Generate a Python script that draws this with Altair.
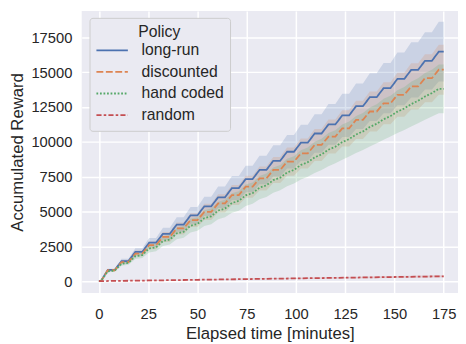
import altair as alt
import pandas as pd

policies = ["long-run", "discounted", "hand coded", "random"]
colors = ["#4C72B0", "#DD8452", "#55A868", "#C44E52"]
dashes = [[1, 0], [7, 2.6], [1.8, 1.8], [5.2, 2.2, 2.6, 2.2]]

x_ticks = [0, 25, 50, 75, 100, 125, 150, 175]
y_ticks = [0, 2500, 5000, 7500, 10000, 12500, 15000, 17500]

# reward periods: each of 25 periods of 7 minutes starts with a rise
n_steps = 25
rise_start = [7 * k + 1 for k in range(n_steps)]
rise_end = [7 * k + 4.5 for k in range(n_steps)]

# level reached after each rise
longrun_end = [800, 1440, 2100, 2760, 3400, 4060, 4720, 5370, 6020, 6680,
               7330, 7980, 8640, 9290, 9940, 10600, 11250, 11900, 12560, 13210,
               13860, 14520, 15170, 15820, 16480]
discounted_end = [780, 1370, 1980, 2580, 3170, 3780, 4380, 4970, 5580, 6180,
                  6780, 7370, 7980, 8580, 9170, 9780, 10380, 10970, 11580, 12180,
                  12770, 13380, 13980, 14570, 15180]
handcoded_end = [700, 1250, 1790, 2340, 2880, 3430, 3980, 4520, 5070, 5610,
                 6160, 6710, 7250, 7800, 8340, 8890, 9440, 9980, 10530, 11070,
                 11620, 12170, 12710, 13260, 13810]
# value just before each rise
longrun_start = [0] + longrun_end[:-1]
discounted_start = [0] + discounted_end[:-1]
handcoded_start = [0, 750, 1310, 1870, 2430, 2980, 3540, 4100, 4650, 5210,
                   5760, 6320, 6880, 7430, 7990, 8540, 9100, 9650, 10200, 10750,
                   11300, 11850, 12400, 12950, 13500]

# confidence half-widths after each rise
longrun_hw = [90, 170, 260, 340, 430, 520, 600, 690, 770, 860, 950, 1030, 1120,
              1200, 1290, 1380, 1460, 1550, 1630, 1720, 1810, 1890, 1980, 2060, 2150]
discounted_hw = [70, 140, 220, 290, 360, 430, 500, 580, 650, 720, 790, 860, 940,
                 1010, 1080, 1150, 1220, 1300, 1370, 1440, 1510, 1580, 1660, 1730, 1800]
handcoded_hw = [70, 140, 210, 280, 350, 420, 490, 560, 630, 700, 770, 840, 910,
                980, 1050, 1120, 1190, 1260, 1330, 1400, 1470, 1540, 1610, 1680, 1750]

random_t = [0, 25, 50, 75, 100, 125, 150, 175]
random_v = [0, 45, 95, 145, 195, 245, 295, 345]
random_hw = [0, 15, 25, 35, 45, 55, 65, 70]

rows = []
series = [
    ("long-run", longrun_start, longrun_end, longrun_hw),
    ("discounted", discounted_start, discounted_end, discounted_hw),
    ("hand coded", handcoded_start, handcoded_end, handcoded_hw),
]
for name, st, en, hw in series:
    rows.append((name, 0, 0, 0))
    prev_hw = 0
    for k in range(n_steps):
        rows.append((name, rise_start[k], st[k], prev_hw))
        rows.append((name, rise_end[k], en[k], hw[k]))
        prev_hw = hw[k]
    rows.append((name, 175, en[-1], hw[-1]))
for t, v, h in zip(random_t, random_v, random_hw):
    rows.append(("random", t, v, h))

df = pd.DataFrame(rows, columns=["policy", "t", "v", "hw"])
df["lo"] = df["v"] - df["hw"]
df["hi"] = df["v"] + df["hw"]

FONT = "Liberation Sans"
xscale = alt.Scale(domain=[-8.75, 182.25], nice=False, zero=False)
yscale = alt.Scale(domain=[-850, 19400], nice=False, zero=False)
xaxis = alt.Axis(values=x_ticks, title="Elapsed time [minutes]", format="d")
yaxis = alt.Axis(values=y_ticks, title="Accumulated Reward", format="d")

band = alt.Chart(df).mark_area(opacity=0.2).encode(
    x=alt.X("t:Q", scale=xscale, axis=xaxis),
    y=alt.Y("lo:Q", scale=yscale, axis=yaxis),
    y2="hi:Q",
    fill=alt.Fill("policy:N", scale=alt.Scale(domain=policies, range=colors), legend=None),
)

legend = alt.Legend(title="Policy", titleFontSize=16, labelFontSize=16)
line = alt.Chart(df).mark_line(strokeWidth=1.8).encode(
    x=alt.X("t:Q", scale=xscale, axis=xaxis),
    y=alt.Y("v:Q", scale=yscale, axis=yaxis),
    color=alt.Color("policy:N", scale=alt.Scale(domain=policies, range=colors), legend=legend),
    strokeDash=alt.StrokeDash("policy:N", scale=alt.Scale(domain=policies, range=dashes), legend=legend),
)

chart = (band + line).resolve_scale(fill="independent").properties(
    width=383, height=287,
    autosize=alt.AutoSizeParams(type="none"),
    padding={"left": 75, "top": 0, "right": 0, "bottom": 52},
).configure_view(
    fill="#EAEAF2", stroke=None
).configure_axis(
    grid=True, gridColor="white", gridWidth=1.5, domain=False, ticks=False,
    labelFont=FONT, labelFontSize=15, labelColor="#262626",
    titleFont=FONT, titleFontSize=17, titleFontWeight="normal", titleColor="#262626",
).configure_axisX(
    labelPadding=14, titlePadding=4,
).configure_axisY(
    labelPadding=10, titlePadding=5,
).configure_legend(
    orient="none", legendX=8, legendY=7, padding=6,
    fillColor="#EAEAF2", strokeColor="#CCCCCC", cornerRadius=3,
    titleFont=FONT, titleFontSize=16, titleFontWeight="normal", titleColor="#262626",
    titleAnchor="middle", titlePadding=1,
    labelFont=FONT, labelFontSize=16, labelColor="#262626", labelOffset=13,
    symbolType="stroke", symbolSize=1024, symbolStrokeWidth=1.8,
    clipHeight=20, rowPadding=2,
)

chart.save("out.html", embed_options={"renderer": "svg", "actions": False})
